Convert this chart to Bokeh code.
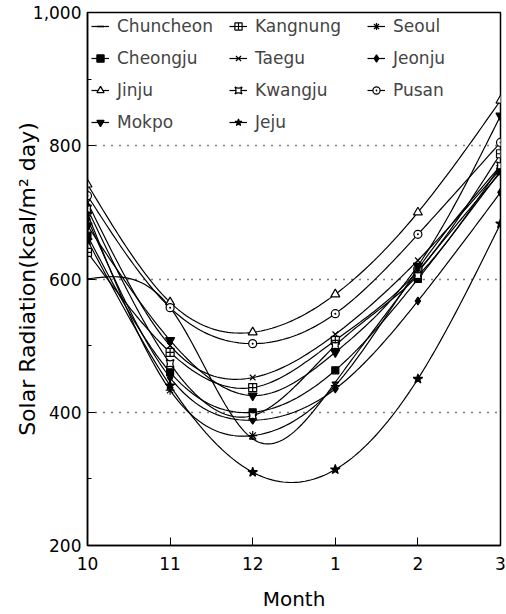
import numpy as np
from bokeh.plotting import figure
from bokeh.models import Legend, LegendItem, NumeralTickFormatter, FixedTicker, Range1d
from bokeh.embed import file_html
from bokeh.resources import INLINE

months = ["10", "11", "12", "1", "2", "3"]

chuncheon = [600, 557, 360, 445, 610, 760]
kangnung = [640, 490, 437, 508, 612, 788]
seoul = [698, 433, 365, 440, 615, 770]
cheongju = [665, 460, 400, 463, 600, 762]
taegu = [715, 500, 452, 517, 628, 765]
jeonju = [690, 452, 388, 435, 567, 730]
jinju = [742, 565, 520, 577, 700, 868]
kwangju = [705, 473, 395, 500, 605, 770]
pusan = [725, 557, 503, 548, 667, 805]
mokpo = [680, 508, 425, 490, 620, 845]
jeju = [658, 440, 310, 314, 450, 683]

stations = ["Chuncheon", "Kangnung", "Seoul", "Cheongju", "Taegu", "Jeonju",
            "Jinju", "Kwangju", "Pusan", "Mokpo", "Jeju"]
series = [chuncheon, kangnung, seoul, cheongju, taegu, jeonju,
          jinju, kwangju, pusan, mokpo, jeju]
# (marker, size, fill colour)
styles = [("dash", 7, "black"), ("square_cross", 8, "white"), ("asterisk", 9, "white"),
          ("square", 7, "black"), ("x", 8, "white"), ("diamond", 8, "black"),
          ("triangle", 9, "white"), ("square_pin", 8, "white"), ("circle_dot", 8, "white"),
          ("inverted_triangle", 9, "black"), ("star", 10, "black")]
# legend shown row by row in three columns (Bokeh fills columns first)
legend_order = ["Chuncheon", "Cheongju", "Jinju", "Mokpo",
                "Kangnung", "Taegu", "Kwangju", "Jeju",
                "Seoul", "Jeonju", "Pusan"]


def natural_spline(y, n=30):
    y = np.asarray(y, dtype=float)
    k = len(y)
    A = np.zeros((k, k))
    b = np.zeros(k)
    A[0, 0] = 1.0
    A[-1, -1] = 1.0
    for i in range(1, k - 1):
        A[i, i - 1] = 1.0
        A[i, i] = 4.0
        A[i, i + 1] = 1.0
        b[i] = 6.0 * (y[i + 1] - 2 * y[i] + y[i - 1])
    M = np.linalg.solve(A, b)
    xs, ys = [], []
    for i in range(k - 1):
        u = np.linspace(0, 1, n, endpoint=(i == k - 2))
        s = (M[i] * (1 - u) ** 3 / 6 + M[i + 1] * u ** 3 / 6
             + (y[i] - M[i] / 6) * (1 - u) + (y[i + 1] - M[i + 1] / 6) * u)
        xs.extend(list(i + u))
        ys.extend(list(s))
    return xs, ys


p = figure(width=506, height=614, output_backend="svg", toolbar_location=None,
           x_range=Range1d(0, 5), y_range=Range1d(200, 1000),
           min_border_left=87, min_border_right=6, min_border_top=12, min_border_bottom=69)
p.background_fill_color = "white"
p.border_fill_color = "white"
p.outline_line_color = "black"
p.outline_line_width = 1.5

xpos = list(range(len(months)))
item_map = {}
for name, vals, (mk, sz, fc) in zip(stations, series, styles):
    sx, sy = natural_spline(vals)
    lr = p.line(sx, sy, line_color="black", line_width=1.2)
    sr = p.scatter(xpos, vals, marker=mk, size=sz, line_color="black",
                   fill_color=fc, line_width=1.5 if mk == "dash" else 1.2)
    item_map[name] = LegendItem(label=name, renderers=[lr, sr])

legend = Legend(items=[item_map[n] for n in legend_order], location="top_left", ncols=3,
                label_text_font="DejaVu Sans", label_text_font_size="17px",
                label_height=20, label_width=100, glyph_height=20, glyph_width=18,
                label_standoff=8, spacing=12, padding=0, margin=4,
                border_line_alpha=0, background_fill_alpha=0)
p.add_layout(legend)

p.xaxis.ticker = FixedTicker(ticks=xpos)
p.xaxis.major_label_overrides = {i: m for i, m in enumerate(months)}
p.yaxis.ticker = FixedTicker(ticks=[200, 400, 600, 800, 1000],
                             minor_ticks=[300, 500, 700, 900])
p.yaxis.formatter = NumeralTickFormatter(format="0,0")

for ax in (p.xaxis, p.yaxis):
    ax.axis_line_color = "black"
    ax.axis_line_width = 1.5
    ax.major_tick_in = 8
    ax.major_tick_out = 0
    ax.major_tick_line_color = "black"
    ax.major_label_text_font = "DejaVu Sans"
    ax.major_label_text_font_size = "17px"
    ax.major_label_text_color = "black"
    ax.axis_label_text_font = "DejaVu Sans"
    ax.axis_label_text_font_style = "normal"
    ax.axis_label_text_color = "black"

p.xaxis.minor_tick_line_color = None
p.yaxis.minor_tick_in = 4
p.yaxis.minor_tick_out = 0
p.yaxis.minor_tick_line_color = "black"

p.xaxis.axis_label = "Month"
p.xaxis.axis_label_text_font_size = "20px"
p.xaxis.major_label_standoff = 11
p.xaxis.axis_label_standoff = 14

p.yaxis.axis_label = "Solar Radiation(kcal/m\u00b2 day)"
p.yaxis.axis_label_text_font_size = "22px"
p.yaxis.major_label_standoff = 6
p.yaxis.axis_label_standoff = -10

p.xgrid.grid_line_color = None
p.ygrid.grid_line_color = "black"
p.ygrid.grid_line_dash = "1 7"
p.ygrid.grid_line_width = 1.5

open("out.html", "w").write(file_html(p, INLINE))
